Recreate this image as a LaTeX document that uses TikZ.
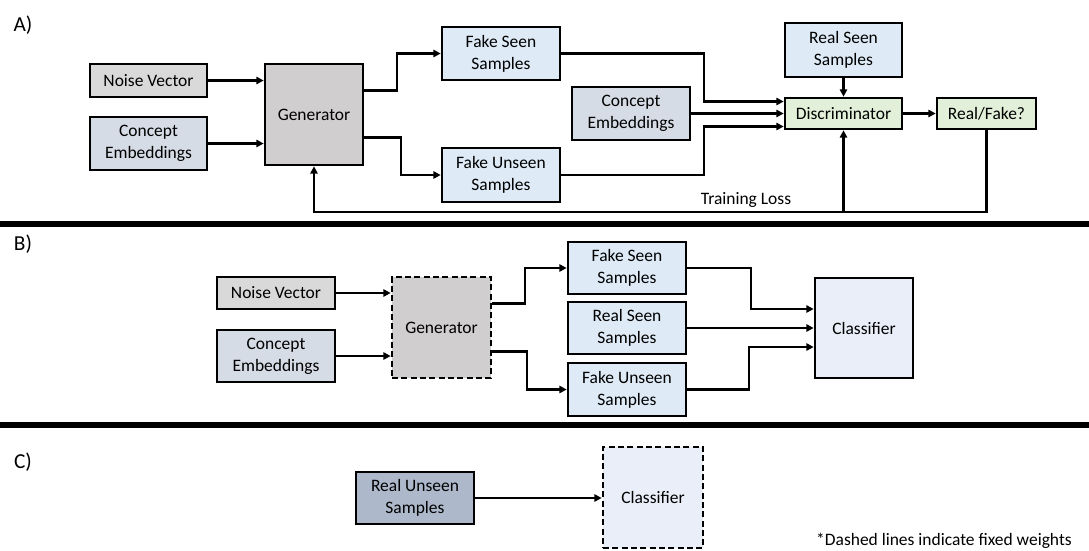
\documentclass[tikz,border=0pt]{standalone}
\usepackage{fontspec}
\setmainfont{Carlito}
\usetikzlibrary{calc,arrows.meta}
\definecolor{cNoise}{HTML}{D9D9D9}
\definecolor{cGen}{HTML}{D0CECE}
\definecolor{cConcept}{HTML}{D6DCE5}
\definecolor{cSample}{HTML}{DEEBF7}
\definecolor{cGreen}{HTML}{E2F0D9}
\definecolor{cClass}{HTML}{EAEEF8}
\definecolor{cRealU}{HTML}{ADB9CA}
\begin{document}
\begin{tikzpicture}[x=0.75pt,y=-0.75pt,
  font=\fontsize{13.1pt}{16.3pt}\selectfont,
  box/.style={draw=black, line width=2pt, align=center, inner sep=0pt},
  sz/.style 2 args={minimum width=#1*0.75pt, minimum height=#2*0.75pt},
  fixedw/.style={dash pattern=on 4.5pt off 2.5pt},
  arr/.style={line width=1.6pt, -{Triangle[length=5.5pt,width=5.5pt]}},
  sepline/.style={line width=4.5pt},
  lbl/.style={inner sep=0pt, font=\fontsize{16pt}{19pt}\selectfont},
  txt/.style={inner sep=0pt}]
\useasboundingbox (0,0) rectangle (1089,550);

% ---------- A ----------
\node[lbl] (lblA) at (23,25) {A)};
\node[box, sz={117}{33}, fill=cNoise] (noiseA) at (148.5,80.5) {Noise Vector};
\node[box, sz={117}{53}, fill=cConcept] (conA) at (148.5,143.5) {Concept\\Embeddings};
\node[box, sz={98}{101}, fill=cGen] (genA) at (314,114.5) {Generator};
\node[box, sz={118}{53}, fill=cSample] (fsA) at (501,53.5) {Fake Seen\\Samples};
\node[box, sz={118}{54}, fill=cSample] (fuA) at (501,175) {Fake Unseen\\Samples};
\node[box, sz={118}{53}, fill=cConcept] (con2A) at (631,113.5) {Concept\\Embeddings};
\node[box, sz={117}{54}, fill=cSample] (rsA) at (843.5,50) {Real Seen\\Samples};
\node[box, sz={117}{31}, fill=cGreen] (disA) at (843.5,113.5) {Discriminator};
\node[box, sz={99}{31}, fill=cGreen] (rfA) at (986.5,113.5) {Real/Fake?};
\node[txt] (tlA) at (746,200) {Training Loss};

\draw[arr] (noiseA.east) -- (noiseA.east -| genA.west);
\draw[arr] (conA.east) -- (conA.east -| genA.west);
\draw[arr] ($(genA.east)+(0,-24)$) -| ($(fsA.west)+(-44,0)$) -- (fsA.west);
\draw[arr] ($(genA.east)+(0,23)$) -| ($(fuA.west)+(-40,0)$) -- (fuA.west);
\draw[arr] (fsA.east) -| ($(disA.west)+(-80,-12)$) -- ($(disA.west)+(0,-12)$);
\draw[arr] (con2A.east) -- (con2A.east -| disA.west);
\draw[arr] (fuA.east) -| ($(disA.west)+(-80,13)$) -- ($(disA.west)+(0,13)$);
\draw[arr] (rsA.south) -- (disA.north);
\draw[arr] (disA.east) -- (rfA.west);
\coordinate (fbR) at ($(rfA.south)+(0,82)$);
\draw[arr] (rfA.south) -- (fbR) -| (genA.south);
\draw[arr] (disA.south |- fbR) -- (disA.south);

\draw[sepline] (0,223.5) -- (1089,223.5);

% ---------- B ----------
\node[lbl] (lblB) at (23,244) {B)};
\node[box, sz={118}{32}, fill=cNoise] (noiseB) at (276,293) {Noise Vector};
\node[box, sz={118}{52}, fill=cConcept] (conB) at (276,356) {Concept\\Embeddings};
\node[box, fixedw, sz={99}{101}, fill=cGen] (genB) at (441.5,327.5) {Generator};
\node[box, sz={118}{52}, fill=cSample] (fsB) at (627,268) {Fake Seen\\Samples};
\node[box, sz={118}{52}, fill=cSample] (rsB) at (627,328) {Real Seen\\Samples};
\node[box, sz={118}{53}, fill=cSample] (fuB) at (627,389.5) {Fake Unseen\\Samples};
\node[box, sz={98}{100}, fill=cClass] (clsB) at (864,328) {Classifier};

\draw[arr] (noiseB.east) -- (noiseB.east -| genB.west);
\draw[arr] (conB.east) -- (conB.east -| genB.west);
\draw[arr] ($(genB.east)+(0,-24)$) -| ($(fsB.west)+(-42,0)$) -- (fsB.west);
\draw[arr] ($(genB.east)+(0,24)$) -| ($(fuB.west)+(-40,0)$) -- (fuB.west);
\draw[arr] (fsB.east) -| ($(clsB.west)+(-63,-19)$) -- ($(clsB.west)+(0,-19)$);
\draw[arr] (rsB.east) -- (rsB.east -| clsB.west);
\draw[arr] (fuB.east) -| ($(clsB.west)+(-65,19)$) -- ($(clsB.west)+(0,19)$);

\draw[sepline] (0,425) -- (1089,425);

% ---------- C ----------
\node[lbl] (lblC) at (23,462) {C)};
\node[box, sz={118}{52}, fill=cRealU] (realU) at (415,498) {Real Unseen\\Samples};
\node[box, fixedw, sz={100}{101}, fill=cClass] (clsC) at (653,497.5) {Classifier};
\draw[arr] (realU.east) -- (realU.east -| clsC.west);
\node[txt, anchor=east] (note) at (1072,541) {*Dashed lines indicate fixed weights};
\end{tikzpicture}
\end{document}
